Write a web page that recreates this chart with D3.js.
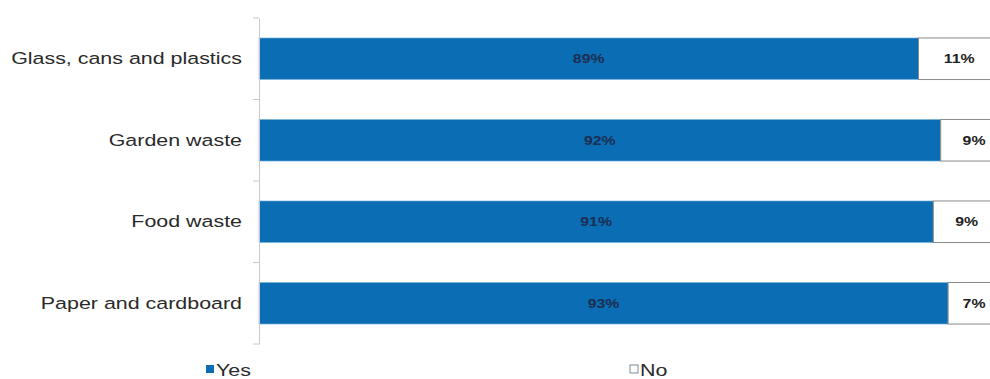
<!DOCTYPE html>
<html>
<head>
<meta charset="utf-8">
<script src="https://cdn.jsdelivr.net/npm/d3@7/dist/d3.min.js"></script>
<style>
  html, body { margin: 0; padding: 0; background: #fff; }
  svg { display: block; font-family: Arial, "Liberation Sans", sans-serif; }
</style>
</head>
<body>
<svg id="chart" width="990" height="379"></svg>
<script>
// Recycling service: share answering Yes / No per material stream
const categories = ["Glass, cans and plastics", "Garden waste", "Food waste", "Paper and cardboard"];
const yesValues = [89, 92, 91, 93];
const noValues = [11, 9, 9, 7];
const seriesNames = ["Yes", "No"];

const svg = d3.select("#chart");
const plot = { left: 259, right: 1000, top: 18, bottom: 344 };
const SX = 1.22;   // horizontal stretch of the value labels
const SXL = 1.26;  // horizontal stretch of category and legend text

const x = d3.scaleLinear().domain([0, 100]).range([plot.left, plot.right]);
const y = d3.scaleBand().domain(categories).range([plot.top, plot.bottom]).paddingInner(0.49).paddingOuter(0.245);

const rows = categories.map((c, i) => ({ cat: c, yes: yesValues[i], no: noValues[i] }));

// Yes segments
svg.append("g").selectAll("rect").data(rows).join("rect")
  .attr("x", x(0))
  .attr("y", d => y(d.cat))
  .attr("width", d => x(d.yes) - x(0))
  .attr("height", y.bandwidth())
  .attr("fill", "#0b6db4")
  .attr("stroke", "#7fb6dc")
  .attr("stroke-width", 0.6);

// No segments
svg.append("g").selectAll("rect").data(rows).join("rect")
  .attr("x", d => x(d.yes))
  .attr("y", d => y(d.cat))
  .attr("width", d => x(d.yes + d.no) - x(d.yes))
  .attr("height", y.bandwidth())
  .attr("fill", "#ffffff")
  .attr("stroke", "#8a8a8a")
  .attr("stroke-width", 1);

// Value labels
svg.append("g").selectAll("text").data(rows).join("text")
  .attr("transform", d => `translate(${(x(0) + x(d.yes)) / 2},${y(d.cat) + y.bandwidth() / 2}) scale(${SX},1)`)
  .attr("dy", "0.36em")
  .attr("text-anchor", "middle")
  .attr("font-size", 13)
  .attr("font-weight", "bold")
  .attr("fill", "#1c2e52")
  .text(d => d.yes + "%");

svg.append("g").selectAll("text").data(rows).join("text")
  .attr("transform", d => `translate(${(x(d.yes) + x(d.yes + d.no)) / 2},${y(d.cat) + y.bandwidth() / 2}) scale(${SX},1)`)
  .attr("dy", "0.36em")
  .attr("text-anchor", "middle")
  .attr("font-size", 13)
  .attr("font-weight", "bold")
  .attr("fill", "#222")
  .text(d => d.no + "%");

// Category axis
const axis = svg.append("g")
  .attr("transform", `translate(${plot.left},0)`)
  .call(d3.axisLeft(y).tickSize(0).tickPadding(13.5));
axis.select(".domain").attr("stroke", "#c8c8c8");
axis.selectAll("text").attr("font-size", 17).attr("fill", "#2a2a2a")
  .attr("transform", `scale(${SXL},1)`)
  .attr("font-family", "Arial, 'Liberation Sans', sans-serif");

// Tick marks between categories
const boundaries = d3.range(categories.length + 1).map(i => plot.top + i * y.step());
svg.append("g").selectAll("line").data(boundaries).join("line")
  .attr("x1", plot.left - 6).attr("x2", plot.left)
  .attr("y1", d => d).attr("y2", d => d)
  .attr("stroke", "#c8c8c8");

// Legend
const legendX = [206, 630];
const legend = svg.append("g").selectAll("g").data(seriesNames).join("g")
  .attr("transform", (d, i) => `translate(${legendX[i]},370)`);
legend.append("rect")
  .attr("x", 0).attr("y", -5).attr("width", 8).attr("height", 8)
  .attr("fill", (d, i) => i === 0 ? "#0b6db4" : "#fff")
  .attr("stroke", (d, i) => i === 0 ? "none" : "#7a8a9a")
  .attr("stroke-width", 1);
legend.append("text")
  .attr("transform", `translate(10,0) scale(${SXL},1)`)
  .attr("dy", "0.36em")
  .attr("font-size", 17).attr("fill", "#2a2a2a")
  .text(d => d);
</script>
</body>
</html>
